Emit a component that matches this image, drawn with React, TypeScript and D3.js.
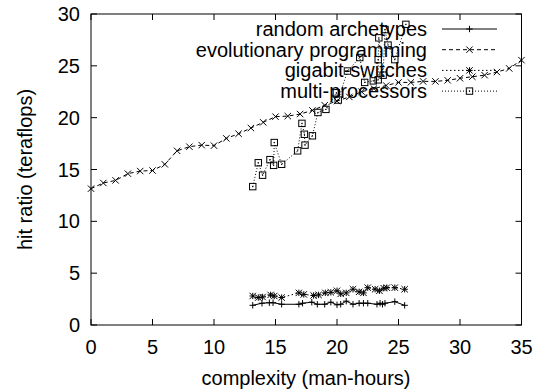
import React from "react";
import * as d3 from "d3";

const xTicks = [0, 5, 10, 15, 20, 25, 30, 35];
const yTicks = [0, 5, 10, 15, 20, 25, 30];

const evoX = [0,1,2,3,4,5,6,7,8,9,10,11,12,13,14,15,16,17,18,19,20,21,22,23,24,25,26,27,28,29,30,31,32,33,34,35];
const evoY = [13.15,13.7,13.95,14.6,14.85,14.9,15.5,16.8,17.2,17.35,17.3,18.0,18.45,19.0,19.55,20.1,20.15,20.35,20.7,21.2,21.6,22.0,22.5,22.8,23.1,23.4,23.4,23.5,23.5,23.6,23.8,23.95,24.1,24.4,24.75,25.55];

const randX = [13.15,13.9,14.5,14.8,15.5,16.9,17.2,17.95,18.4,19.0,19.5,20.0,20.3,20.75,21.3,21.8,22.15,22.5,23.25,23.5,23.7,23.9,24.7,25.5];
const randY = [1.9,2.1,2.15,2.15,2.0,2.0,2.1,2.2,2.0,2.0,2.2,1.95,2.0,2.3,2.0,2.1,2.1,2.1,2.0,2.1,2.0,2.1,2.25,1.9];

const gigaX = [13.15,13.6,13.95,14.6,14.9,15.5,16.9,17.3,18.1,18.5,19.05,19.5,20.0,20.3,20.75,21.3,21.8,22.15,22.5,23.1,23.45,23.8,24.05,24.7,25.5];
const gigaY = [2.8,2.65,2.7,2.9,2.8,2.65,3.1,2.95,2.85,2.9,3.1,3.15,3.3,3.0,3.1,3.45,3.2,3.1,3.6,3.45,3.3,3.55,3.6,3.6,3.45];

const multiX = [13.15,13.6,13.95,14.55,14.85,14.9,15.5,16.8,17.15,17.35,17.4,18.0,18.45,19.1,19.95,20.1,20.85,21.85,22.25,22.95,23.35,23.35,23.4,23.75,23.9,24.15,24.7,25.6];
const multiY = [13.35,15.65,14.45,15.95,15.4,17.6,15.5,16.8,19.45,18.4,17.35,18.25,20.5,20.8,22.4,21.7,24.5,25.8,23.4,23.55,23.65,25.6,27.7,24.1,28.5,27.0,25.6,29.0];

const seriesNames = ["random archetypes", "evolutionary programming", "gigabit-switches", "multi-processors"];

const W = 536, H = 389;
const L = 91, R = 521.5, T = 14, B = 325;
const FONT = "'Liberation Sans', Arial, sans-serif";
const INK = "#000";

function Marker({ kind, x, y }: { kind: string; x: number; y: number }) {
  const s = 3.2;
  if (kind === "plus") {
    return <path d={`M${x - s},${y}H${x + s}M${x},${y - s}V${y + s}`} stroke={INK} strokeWidth={1} fill="none" />;
  }
  if (kind === "cross") {
    return <path d={`M${x - s},${y - s}L${x + s},${y + s}M${x - s},${y + s}L${x + s},${y - s}`} stroke={INK} strokeWidth={1} fill="none" />;
  }
  if (kind === "star") {
    return <path d={`M${x - s},${y - s}L${x + s},${y + s}M${x - s},${y + s}L${x + s},${y - s}M${x - s},${y}H${x + s}M${x},${y - s}V${y + s}`} stroke={INK} strokeWidth={1} fill="none" />;
  }
  return (
    <g>
      <rect x={x - s} y={y - s} width={2 * s} height={2 * s} stroke={INK} strokeWidth={1} fill="none" />
      <rect x={x - 0.6} y={y - 0.6} width={1.2} height={1.2} fill={INK} />
    </g>
  );
}

export default function App() {
  const x = d3.scaleLinear().domain([0, 35]).range([L, R]);
  const y = d3.scaleLinear().domain([0, 30]).range([B, T]);
  const line = d3.line<[number, number]>().x((d) => x(d[0])).y((d) => y(d[1]));

  const series = [
    { name: seriesNames[0], xs: randX, ys: randY, marker: "plus", dash: "none" },
    { name: seriesNames[1], xs: evoX, ys: evoY, marker: "cross", dash: "4,3" },
    { name: seriesNames[2], xs: gigaX, ys: gigaY, marker: "star", dash: "1.5,2.5" },
    { name: seriesNames[3], xs: multiX, ys: multiY, marker: "box", dash: "1,2" },
  ];

  const legendTextX = 427;
  const legendY0 = 29;
  const legendDy = 20.7;
  const sampleX1 = 442, sampleX2 = 497;

  return (
    <svg width={W} height={H} style={{ position: "absolute", left: 0, top: 0, background: "#fff" }} fontFamily={FONT}>
      <rect x={0} y={0} width={W} height={H} fill="#fff" />
      {/* ticks */}
      {xTicks.map((t) => (
        <g key={"xt" + t}>
          <line x1={x(t)} x2={x(t)} y1={B} y2={B - 6} stroke={INK} />
          <line x1={x(t)} x2={x(t)} y1={T} y2={T + 6} stroke={INK} />
          <text x={x(t)} y={347} textAnchor="middle" dominantBaseline="central" fontSize={20} fill={INK}>{t}</text>
        </g>
      ))}
      {yTicks.map((t) => (
        <g key={"yt" + t}>
          <line x1={L} x2={L + 6} y1={y(t)} y2={y(t)} stroke={INK} />
          <line x1={R} x2={R - 6} y1={y(t)} y2={y(t)} stroke={INK} />
          <text x={80} y={y(t)} textAnchor="end" dominantBaseline="central" fontSize={20} fill={INK}>{t}</text>
        </g>
      ))}
      {/* series */}
      {series.map((s, i) => {
        const pts: [number, number][] = s.xs.map((v, k) => [v, s.ys[k]]);
        return (
          <g key={"s" + i}>
            <path d={line(pts) || ""} fill="none" stroke={INK} strokeWidth={1} strokeDasharray={s.dash} />
            {pts.map((p, k) => (
              <Marker key={k} kind={s.marker} x={x(p[0])} y={y(p[1])} />
            ))}
          </g>
        );
      })}
      {/* frame */}
      <rect x={L} y={T} width={R - L} height={B - T} fill="none" stroke={INK} strokeWidth={1} />
      {/* legend */}
      {series.map((s, i) => {
        const ly = legendY0 + i * legendDy;
        return (
          <g key={"lg" + i}>
            <text x={legendTextX} y={ly} textAnchor="end" dominantBaseline="central" fontSize={20} fill={INK}>{s.name}</text>
            <line x1={sampleX1} x2={sampleX2} y1={ly} y2={ly} stroke={INK} strokeDasharray={s.dash} />
            <Marker kind={s.marker} x={(sampleX1 + sampleX2) / 2} y={ly} />
          </g>
        );
      })}
      {/* axis titles */}
      <text x={306} y={378} textAnchor="middle" dominantBaseline="central" fontSize={20} fill={INK}>complexity (man-hours)</text>
      <text transform={`translate(25,${(T + B) / 2}) rotate(-90)`} textAnchor="middle" dominantBaseline="central" fontSize={20} fill={INK}>hit ratio (teraflops)</text>
    </svg>
  );
}
